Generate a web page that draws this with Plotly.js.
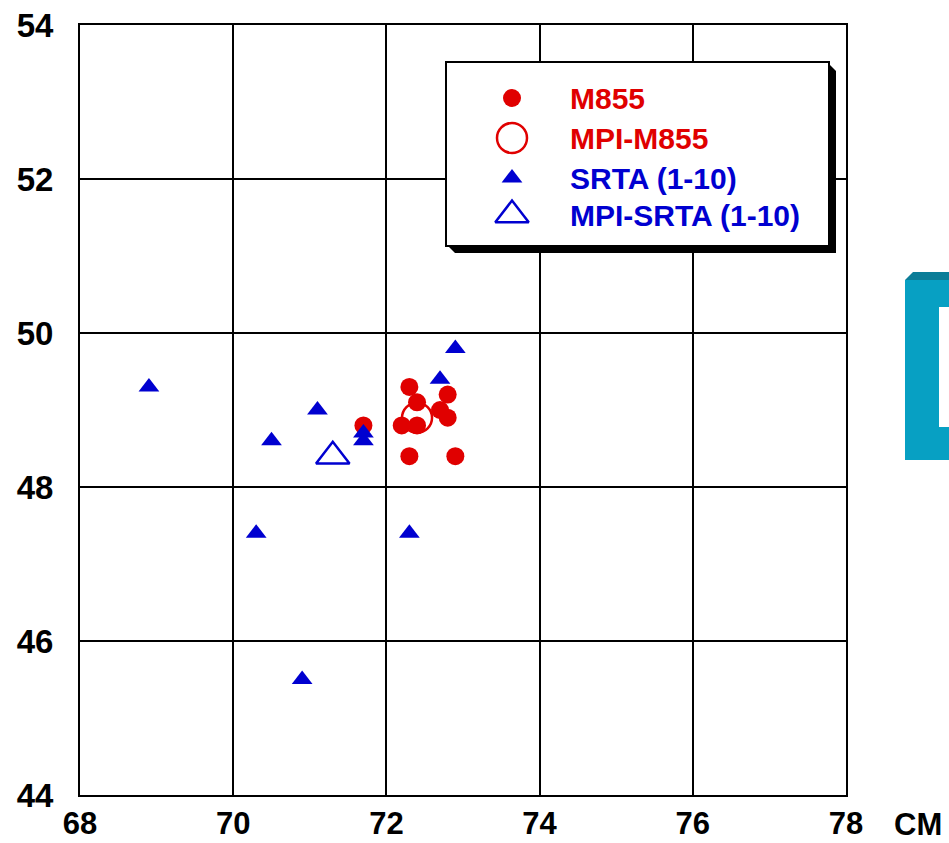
<!DOCTYPE html>
<html>
<head>
<meta charset="utf-8">
<script src="https://cdn.plot.ly/plotly-3.0.1.min.js"></script>
<style>
  html, body { margin: 0; padding: 0; background: #ffffff; }
  #chart { width: 949px; height: 843px; }
</style>
</head>
<body>
<div id="chart"></div>
<script>
// Shot group data, horizontal vs vertical (cm)
const m855X = [71.7, 72.3, 72.4, 72.8, 72.7, 72.8, 72.2, 72.4, 72.3, 72.9];
const m855Y = [48.8, 49.3, 49.1, 49.2, 49.0, 48.9, 48.8, 48.8, 48.4, 48.4];
const mpiM855X = [72.4];
const mpiM855Y = [48.9];
const srtaX = [68.9, 70.5, 70.3, 70.9, 71.1, 71.7, 71.7, 72.3, 72.7, 72.9];
const srtaY = [49.3, 48.6, 47.4, 45.5, 49.0, 48.7, 48.6, 47.4, 49.4, 49.8];
const mpiSrtaX = [71.3];
const mpiSrtaY = [48.4];

const seriesNames = ['M855', 'MPI-M855', 'SRTA (1-10)', 'MPI-SRTA (1-10)'];
const xTicks = [68, 70, 72, 74, 76, 78];
const yTicks = [44, 46, 48, 50, 52, 54];
const xUnit = 'CM';

const RED = '#e00000';
const BLUE = '#0000d0';
const FONT = 'Liberation Sans, Arial, sans-serif';

// page geometry (pixels) of the plotting frame
const W = 949, H = 843;
const L = 80, R = 846, T = 25, B = 795;
const px = v => (v - L) / (R - L);
const py = v => (B - v) / (B - T);

// key box, in page pixels
const box = { x0: 447, x1: 828, y0: 63, y1: 245 };
const keyRows = [35, 75, 115, 152];
const keyMarkX = 65, keyTextX = 121;

// marker styles, in the order of seriesNames
const styles = [
  { symbol: 'circle', size: 18, color: RED, opacity: 1, line: { width: 0 } },
  { symbol: 'circle-open', size: 30, color: RED, opacity: 1, line: { width: 2.5, color: RED } },
  { symbol: 'triangle-up', size: 18, color: BLUE, opacity: 1, line: { width: 0 } },
  { symbol: 'triangle-up-open', size: 29, color: BLUE, opacity: 1, line: { width: 2.5, color: BLUE } }
];
const keyColors = [RED, RED, BLUE, BLUE];

const mk = (x, y, name, marker, xa, ya) => ({
  type: 'scatter', mode: 'markers', x: x, y: y, name: name, marker: marker,
  xaxis: xa, yaxis: ya, cliponaxis: false, hoverinfo: 'x+y+name'
});

const traces = [
  mk(mpiM855X, mpiM855Y, seriesNames[1], styles[1], 'x', 'y'),
  mk(m855X, m855Y, seriesNames[0], styles[0], 'x', 'y'),
  mk(srtaX, srtaY, seriesNames[2], styles[2], 'x', 'y'),
  mk(mpiSrtaX, mpiSrtaY, seriesNames[3], styles[3], 'x', 'y')
];

// key symbols, drawn in a small inset subplot laid over the frame
seriesNames.forEach((n, i) => {
  traces.push(mk([keyMarkX], [keyRows[i]], n, styles[i], 'x2', 'y2'));
});

const annotations = seriesNames.map((n, i) => ({
  xref: 'x2', yref: 'y2', x: keyTextX, y: keyRows[i], text: n, showarrow: false,
  xanchor: 'left', yanchor: 'middle',
  font: { family: FONT, size: 30, weight: 'bold', color: keyColors[i] }
}));
annotations.push({
  xref: 'paper', yref: 'paper', x: px(918), y: py(805), text: xUnit, showarrow: false,
  xanchor: 'center', yanchor: 'top',
  font: { family: FONT, size: 31, weight: 'bold', color: '#000000' }
});

// paper-pixel path helper
const pathOf = pts => pts.map((p, i) => (i ? 'L' : 'M') + px(p[0]).toFixed(5) + ',' + py(p[1]).toFixed(5)).join(' ') + ' Z';

const shapes = [
  // drop shadow behind the key box
  { type: 'path', xref: 'paper', yref: 'paper', layer: 'below',
    path: pathOf([[828, 63], [836, 71], [836, 253], [455, 253], [447, 245]]),
    fillcolor: '#000000', line: { width: 0 } },
  // teal bracket at the right edge
  { type: 'path', xref: 'paper', yref: 'paper', layer: 'above',
    path: pathOf([[905, 280], [913, 272], [949, 272], [949, 280]]),
    fillcolor: '#0b7d98', line: { width: 0 } },
  { type: 'path', xref: 'paper', yref: 'paper', layer: 'above',
    path: pathOf([[905, 280], [949, 280], [949, 460], [905, 460]]),
    fillcolor: '#07a0c3', line: { width: 0 } },
  { type: 'path', xref: 'paper', yref: 'paper', layer: 'above',
    path: pathOf([[939, 307], [949, 307], [949, 427], [939, 427]]),
    fillcolor: '#ffffff', line: { width: 0 } }
];

const axisBase = {
  showgrid: true, gridcolor: '#000000', gridwidth: 2,
  showline: true, linecolor: '#000000', linewidth: 2, mirror: true,
  zeroline: false, ticks: ''
};

const layout = {
  width: W, height: H,
  margin: { l: L, r: W - R, t: T, b: H - B, pad: 0 },
  paper_bgcolor: '#ffffff', plot_bgcolor: '#ffffff',
  showlegend: false,
  xaxis: Object.assign({}, axisBase, { range: [68, 78], tickvals: xTicks, ticktext: xTicks.map(String),
    ticklabelstandoff: 0, domain: [0, 1],
    tickfont: { family: FONT, size: 31, weight: 'bold', color: '#000000' } }),
  yaxis: Object.assign({}, axisBase, { range: [44, 54], tickvals: yTicks, ticktext: yTicks.map(String),
    ticklabelstandoff: 18, domain: [0, 1],
    tickfont: { family: FONT, size: 33, weight: 'bold', color: '#000000' } }),
  xaxis2: { domain: [px(box.x0), px(box.x1)], anchor: 'y2', range: [0, box.x1 - box.x0],
    showgrid: false, zeroline: false, showticklabels: false, ticks: '',
    showline: true, linecolor: '#000000', linewidth: 2, mirror: true, fixedrange: true },
  yaxis2: { domain: [py(box.y1), py(box.y0)], anchor: 'x2', range: [box.y1 - box.y0, 0],
    showgrid: false, zeroline: false, showticklabels: false, ticks: '',
    showline: true, linecolor: '#000000', linewidth: 2, mirror: true, fixedrange: true },
  annotations: annotations,
  shapes: shapes
};

Plotly.newPlot('chart', traces, layout, { displayModeBar: false, staticPlot: true });
</script>
</body>
</html>
